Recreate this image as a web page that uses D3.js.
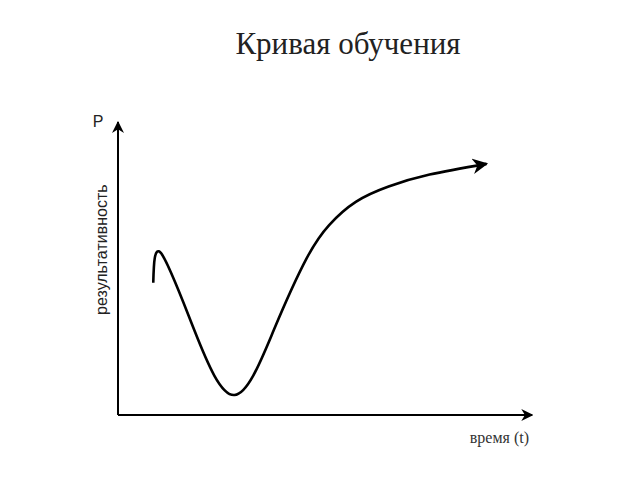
<!DOCTYPE html>
<html>
<head>
<meta charset="utf-8">
<script src="https://cdn.jsdelivr.net/npm/d3@7"></script>
<style>
  body { margin: 0; background: #fff; }
</style>
</head>
<body>
<div id="chart"></div>
<script>
// кривая обучения: значения (время 0..100, результат 0..100)
const timeValues = [8.6, 10.5, 18.6, 28.4, 38.0, 46.0, 51.5, 58.0, 66.0, 76.0, 89.9];
const perfValues = [45.6, 55.8, 29.3, 6.9, 29.3, 54.0, 65.5, 73.5, 78.8, 82.9, 86.6];

const titleText = "Кривая обучения";
const yLabel = "результативность";
const xLabel = "время (t)";
const yAxisName = "P";

const width = 640;
const height = 480;

const svg = d3.select("#chart").append("svg")
    .attr("width", width)
    .attr("height", height);

const xScale = d3.scaleLinear().domain([0, 100]).range([118, 528]);
const yScale = d3.scaleLinear().domain([0, 100]).range([415, 125]);

// наконечники стрелок
const defs = svg.append("defs");
defs.append("marker")
    .attr("id", "arrow")
    .attr("viewBox", "0 0 10 10")
    .attr("refX", 9)
    .attr("refY", 5)
    .attr("markerWidth", 6)
    .attr("markerHeight", 6)
    .attr("markerUnits", "strokeWidth")
    .attr("orient", "auto")
    .append("path")
    .attr("d", "M0,0 L10,5 L0,10 L3,5 Z")
    .attr("fill", "#000");

// оси
svg.append("line")
    .attr("x1", xScale(0)).attr("y1", yScale(0))
    .attr("x2", xScale(101)).attr("y2", yScale(0))
    .attr("stroke", "#000")
    .attr("stroke-width", 2)
    .attr("marker-end", "url(#arrow)");

svg.append("line")
    .attr("x1", xScale(0)).attr("y1", yScale(0))
    .attr("x2", xScale(0)).attr("y2", yScale(101))
    .attr("stroke", "#000")
    .attr("stroke-width", 2)
    .attr("marker-end", "url(#arrow)");

// кривая
const points = timeValues.map((t, i) => [t, perfValues[i]]);
const line = d3.line()
    .x(d => xScale(d[0]))
    .y(d => yScale(d[1]))
    .curve(d3.curveNatural);

svg.append("path")
    .datum(points)
    .attr("d", line)
    .attr("fill", "none")
    .attr("stroke", "#000")
    .attr("stroke-width", 2.6)
    .attr("marker-end", "url(#arrow)");

// подписи
svg.append("text")
    .attr("x", 348)
    .attr("y", 54)
    .attr("text-anchor", "middle")
    .style("font-family", "'Liberation Serif', 'DejaVu Serif', serif")
    .style("font-size", "31px")
    .style("fill", "#222")
    .text(titleText);

svg.append("text")
    .attr("x", 98)
    .attr("y", 127)
    .attr("text-anchor", "middle")
    .style("font-family", "'Liberation Sans', Arial, sans-serif")
    .style("font-size", "16px")
    .style("fill", "#222")
    .text(yAxisName);

svg.append("text")
    .attr("transform", `translate(107, ${yScale(57)}) rotate(-90)`)
    .attr("text-anchor", "middle")
    .style("font-family", "'Liberation Sans', Arial, sans-serif")
    .style("font-size", "16px")
    .style("fill", "#222")
    .text(yLabel);

svg.append("text")
    .attr("x", 529)
    .attr("y", 443)
    .attr("text-anchor", "end")
    .style("font-family", "'Liberation Serif', 'DejaVu Serif', serif")
    .style("font-size", "16px")
    .style("fill", "#333")
    .text(xLabel);
</script>
</body>
</html>
